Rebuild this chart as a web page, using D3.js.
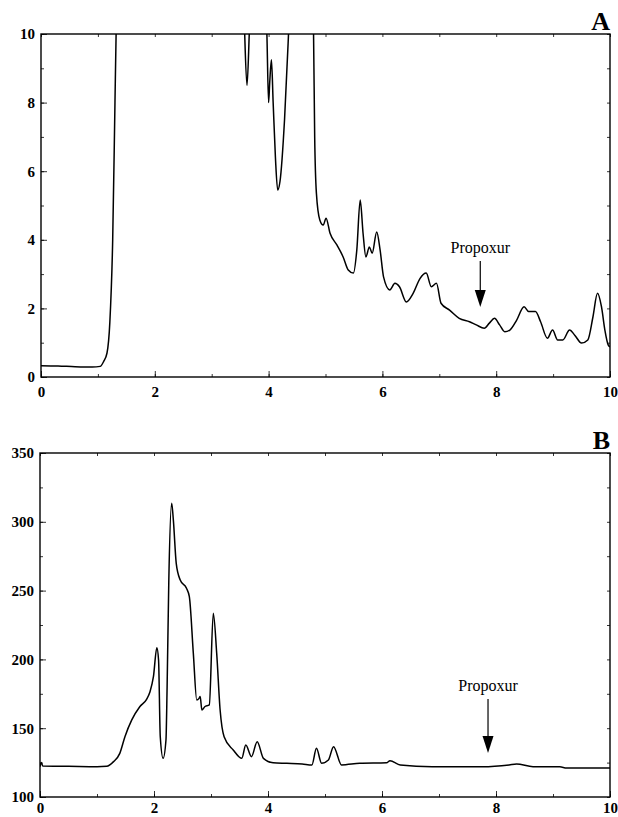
<!DOCTYPE html>
<html>
<head lang="en">
    <meta charset="UTF-8">
    <title>Propoxur chromatograms</title>
    <script src="https://d3js.org/d3.v7.min.js"></script>
    <style>
        body { margin: 0; background: #fff; }
    </style>
</head>
<body>
<div id="chart"></div>
<script type="text/javascript">

    // panel A trace (time, signal), values above 10 are off scale
    var timeA = [0, 0.3, 0.6, 0.9, 1.04, 1.1, 1.16, 1.21, 1.26, 1.3, 1.32, 1.36,
        3.55, 3.58, 3.62, 3.66, 3.7, 3.93, 3.97, 4.0, 4.02, 4.05, 4.08, 4.12, 4.16, 4.2, 4.28, 4.35, 4.4,
        4.75, 4.79, 4.81, 4.84, 4.9, 4.96, 5.01, 5.08, 5.2, 5.31, 5.4, 5.49, 5.55, 5.61, 5.66, 5.71, 5.77,
        5.82, 5.9, 5.96, 6.02, 6.13, 6.22, 6.3, 6.42, 6.54, 6.66, 6.77, 6.86, 6.95, 7.03, 7.18, 7.35,
        7.53, 7.65, 7.79, 7.88, 7.97, 8.06, 8.15, 8.24, 8.36, 8.49, 8.57, 8.69, 8.78, 8.9, 8.99, 9.08,
        9.17, 9.29, 9.38, 9.5, 9.61, 9.7, 9.78, 9.85, 9.91, 9.97, 10.0];
    var signalA = [0.33, 0.32, 0.30, 0.29, 0.31, 0.45, 0.7, 1.6, 4.0, 8.0, 10.0, 12,
        12, 10.0, 8.5, 10.0, 12, 12, 10.0, 8.0, 8.6, 9.25, 8.0, 6.4, 5.45, 5.7, 7.5, 10.0, 12,
        12, 10.0, 7.0, 5.36, 4.58, 4.43, 4.63, 4.19, 3.85, 3.5, 3.12, 3.03, 3.7, 5.16, 4.19, 3.5, 3.79,
        3.61, 4.23, 3.7, 2.92, 2.54, 2.73, 2.63, 2.19, 2.44, 2.87, 3.03, 2.63, 2.73, 2.15, 1.95, 1.71,
        1.61, 1.52, 1.42, 1.57, 1.71, 1.52, 1.32, 1.37, 1.66, 2.05, 1.91, 1.91, 1.61, 1.13, 1.37, 1.08,
        1.08, 1.37, 1.22, 0.99, 1.08, 1.75, 2.44, 2.05, 1.37, 0.93, 0.88];

    // panel B trace
    var timeB = [0, 0.02, 0.05, 0.5, 1.0, 1.17, 1.29, 1.4, 1.49, 1.61, 1.75, 1.87, 1.93, 1.99, 2.05,
        2.08, 2.11, 2.16, 2.21, 2.23, 2.26, 2.31, 2.34, 2.39, 2.46, 2.57, 2.62, 2.69, 2.75, 2.79, 2.81,
        2.84, 2.89, 2.97, 3.04, 3.1, 3.16, 3.23, 3.39, 3.54, 3.61, 3.71, 3.81, 3.92, 4.09, 4.33, 4.6,
        4.77, 4.85, 4.94, 5.06, 5.15, 5.29, 5.61, 6.08, 6.14, 6.32, 6.88, 7.76, 8.23, 8.36, 8.65, 9.12,
        9.24, 10.0];
    var signalB = [122, 125, 122.5, 122.3, 122, 122.3, 125.7, 131.7, 143.8, 156, 165.6, 171, 176.5,
        187.4, 208.5, 199.6, 143.8, 128.1, 141.4, 180, 257.7, 313.4, 301, 269.8, 257.7, 251.7, 245.6,
        204.4, 170.5, 171.7, 173, 163.2, 165.6, 166.9, 233.5, 204.4, 163.2, 143.8, 134.2, 128.1, 137.8,
        129.3, 140.2, 128.1, 124.9, 124.5, 124, 123.3, 135.4, 124.5, 126.9, 136.6, 123.3, 124.5, 124.9,
        126.4, 123.3, 122, 122, 123.3, 124, 122, 122, 121, 121];

    var xTicks = [0, 2, 4, 6, 8, 10];
    var yTicksA = [0, 2, 4, 6, 8, 10];
    var yTicksB = [100, 150, 200, 250, 300, 350];

    var serif = "'Liberation Serif', 'DejaVu Serif', serif";

    var svg = d3.select("#chart").append("svg")
        .attr("width", 618)
        .attr("height", 817);

    function panel(opts) {
        var x = d3.scaleLinear().domain([0, 10]).range([opts.left, opts.right]);
        var y = d3.scaleLinear().domain(opts.yDomain).range([opts.bottom, opts.top]);
        var g = svg.append("g");

        g.append("clipPath").attr("id", opts.id)
            .append("rect")
            .attr("x", opts.left).attr("y", opts.top)
            .attr("width", opts.right - opts.left).attr("height", opts.bottom - opts.top);

        // minor ticks (inside, all four sides)
        g.append("g").attr("transform", "translate(0," + opts.bottom + ")")
            .call(d3.axisBottom(x).tickValues(d3.range(0, 11, 1)).tickSize(-3).tickFormat(""));
        g.append("g").attr("transform", "translate(" + opts.left + ",0)")
            .call(d3.axisLeft(y).tickValues(opts.yMinor).tickSize(-3).tickFormat(""));
        g.append("g").attr("transform", "translate(0," + opts.top + ")")
            .call(d3.axisTop(x).tickValues(d3.range(0, 11, 1)).tickSize(-3).tickFormat(""));
        g.append("g").attr("transform", "translate(" + opts.right + ",0)")
            .call(d3.axisRight(y).tickValues(opts.yMinor).tickSize(-3).tickFormat(""));

        // major ticks with labels
        g.append("g").attr("transform", "translate(0," + opts.bottom + ")")
            .call(d3.axisBottom(x).tickValues(xTicks).tickSize(-6).tickPadding(opts.xPad));
        g.append("g").attr("transform", "translate(" + opts.left + ",0)")
            .call(d3.axisLeft(y).tickValues(opts.yTicks).tickSize(-6).tickPadding(6));

        g.selectAll(".domain").remove();
        g.selectAll(".tick line").attr("stroke", "#000").attr("stroke-width", 0.8);
        g.selectAll(".tick text")
            .attr("fill", "#000")
            .style("font-family", serif)
            .style("font-weight", "bold")
            .style("font-size", "15px");

        // frame
        g.append("rect")
            .attr("x", opts.left).attr("y", opts.top)
            .attr("width", opts.right - opts.left).attr("height", opts.bottom - opts.top)
            .attr("fill", "none").attr("stroke", "#000").attr("stroke-width", 1.4);

        var line = d3.line()
            .x(function (d) { return x(d[0]); })
            .y(function (d) { return y(d[1]); })
            .curve(d3.curveMonotoneX);

        g.append("path")
            .datum(d3.zip(opts.time, opts.signal))
            .attr("clip-path", "url(#" + opts.id + ")")
            .attr("d", line)
            .attr("fill", "none")
            .attr("stroke", "#000")
            .attr("stroke-width", 1.5)
            .attr("stroke-linejoin", "round");

        // panel letter
        g.append("text")
            .attr("x", opts.right).attr("y", opts.top - 4)
            .attr("text-anchor", "end")
            .style("font-family", serif)
            .style("font-weight", "bold")
            .style("font-size", "26px")
            .text(opts.letter);

        // Propoxur arrow
        var ax = x(opts.arrowX);
        g.append("text")
            .attr("x", ax).attr("y", opts.textY)
            .attr("text-anchor", "middle")
            .style("font-family", serif)
            .style("font-size", "16px")
            .text("Propoxur");
        g.append("line")
            .attr("x1", ax).attr("x2", ax)
            .attr("y1", opts.textY + 8).attr("y2", opts.tipY - 12)
            .attr("stroke", "#000").attr("stroke-width", 1.2);
        g.append("path")
            .attr("d", "M" + (ax - 5.5) + "," + (opts.tipY - 17) + "L" + (ax + 5.5) + "," + (opts.tipY - 17) +
                "L" + ax + "," + opts.tipY + "Z")
            .attr("fill", "#000");
    }

    panel({
        id: "clipA", letter: "A", left: 41, right: 610, top: 34, bottom: 377,
        yDomain: [0, 10], yTicks: yTicksA, yMinor: d3.range(0, 11, 1),
        time: timeA, signal: signalA, xPad: 9,
        arrowX: 7.72, textY: 253, tipY: 307
    });

    panel({
        id: "clipB", letter: "B", left: 40, right: 610, top: 453, bottom: 797,
        yDomain: [100, 350], yTicks: yTicksB, yMinor: d3.range(100, 351, 25),
        time: timeB, signal: signalB, xPad: 5,
        arrowX: 7.86, textY: 691, tipY: 753
    });

</script>
</body>
</html>
